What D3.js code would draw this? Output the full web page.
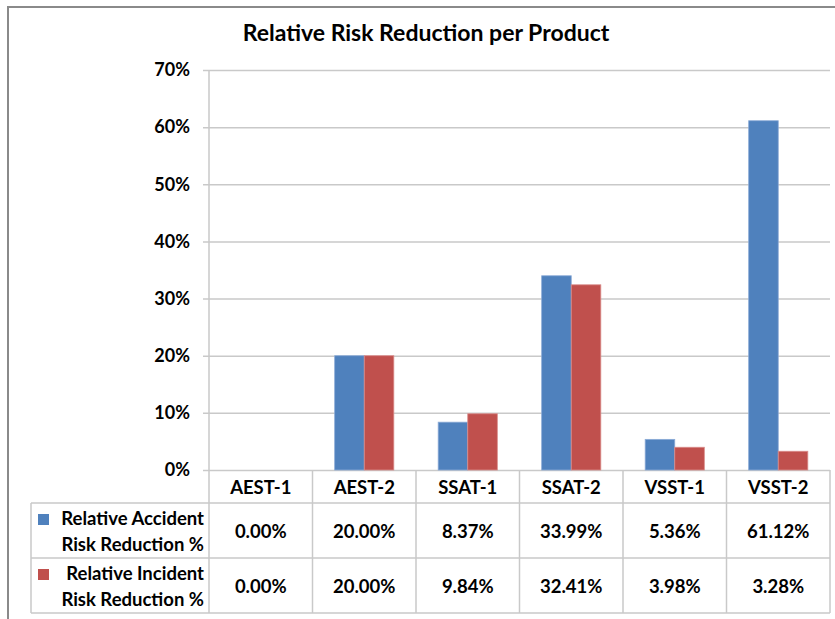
<!DOCTYPE html>
<html>
<head>
<meta charset="utf-8">
<script src="https://cdn.jsdelivr.net/npm/d3@7"></script>
<style>
  html, body { margin: 0; padding: 0; background: #fff; }
  svg { display: block; }
  text { font-family: Lato, "Open Sans", sans-serif; font-weight: bold; fill: #000; }
</style>
</head>
<body>
<svg id="chart" width="835" height="619"></svg>
<script>
// ===== Data =====
const products = ["AEST-1", "AEST-2", "SSAT-1", "SSAT-2", "VSST-1", "VSST-2"];
const accident = [0.0, 0.20, 0.0837, 0.3399, 0.0536, 0.6112];
const incident = [0.0, 0.20, 0.0984, 0.3241, 0.0398, 0.0328];
const seriesNames = [["Relative Accident", "Risk Reduction %"], ["Relative Incident", "Risk Reduction %"]];
const yTicks = [0, 0.1, 0.2, 0.3, 0.4, 0.5, 0.6, 0.7];

const seriesList = [
  { key: "acc", label: seriesNames[0], values: accident, color: "#4F81BD", edge: "#8AAAD6" },
  { key: "inc", label: seriesNames[1], values: incident, color: "#C0504D", edge: "#D98C8A" }
];

// ===== Layout =====
const svg = d3.select("#chart");
const plot = { left: 209, right: 830, top: 70, bottom: 470 };
const table = { left: 31, header: 503, row1: 558, bottom: 613 };
const gridColor = "#c9c9c9";
const tableFont = "18.5px";

const x = d3.scaleBand().domain(products).range([plot.left, plot.right]);
const xs = d3.scaleBand().domain(seriesList.map(s => s.key))
  .range([0, x.bandwidth()]).paddingOuter(0.75);
const y = d3.scaleLinear().domain([0, 0.7]).range([plot.bottom, plot.top]);

// outer chart border
svg.append("rect")
  .attr("x", 8).attr("y", 7)
  .attr("width", 840).attr("height", 630)
  .attr("fill", "none")
  .attr("stroke", "#8a8a8a")
  .attr("stroke-width", 2);

// title
svg.append("text")
  .attr("x", 426).attr("y", 41)
  .attr("text-anchor", "middle")
  .style("font-size", "23px")
  .text("Relative Risk Reduction per Product");

// gridlines + y axis
const yAxis = d3.axisLeft(y)
  .tickValues(yTicks)
  .tickFormat(d3.format(".0%"))
  .tickSize(-(plot.right - plot.left))
  .tickPadding(19);

const yAxisG = svg.append("g")
  .attr("transform", `translate(${plot.left},0)`)
  .call(yAxis);
yAxisG.select(".domain").remove();
yAxisG.selectAll(".tick line")
  .attr("x1", -6)
  .attr("stroke", gridColor)
  .attr("stroke-width", 1.5);
yAxisG.selectAll(".tick text")
  .style("font-size", "18px")
  .style("font-family", "Lato, 'Open Sans', sans-serif")
  .attr("fill", "#000");

// y axis line
svg.append("line")
  .attr("x1", plot.left).attr("x2", plot.left)
  .attr("y1", plot.top).attr("y2", table.bottom)
  .attr("stroke", gridColor).attr("stroke-width", 1.5);

// bars
seriesList.forEach(s => {
  svg.append("g").selectAll("rect")
    .data(products.map((p, i) => ({ p, v: s.values[i] })))
    .join("rect")
    .attr("x", d => x(d.p) + xs(s.key))
    .attr("y", d => y(d.v))
    .attr("width", xs.bandwidth())
    .attr("height", d => y(0) - y(d.v))
    .attr("fill", s.color)
    .attr("stroke", d => d.v > 0 ? s.edge : "none")
    .attr("stroke-width", 0.8);
});

// ===== Data table =====
const tg = svg.append("g");

// vertical separators
products.forEach((p, i) => {
  if (i === 0) return;
  tg.append("line")
    .attr("x1", x(p)).attr("x2", x(p))
    .attr("y1", plot.bottom).attr("y2", table.bottom)
    .attr("stroke", gridColor).attr("stroke-width", 1.5);
});
tg.append("line")
  .attr("x1", plot.right).attr("x2", plot.right)
  .attr("y1", plot.bottom).attr("y2", table.bottom)
  .attr("stroke", gridColor).attr("stroke-width", 1.5);
tg.append("line")
  .attr("x1", table.left).attr("x2", table.left)
  .attr("y1", table.header).attr("y2", table.bottom)
  .attr("stroke", gridColor).attr("stroke-width", 1.5);

// horizontal separators
[table.header, table.row1, table.bottom].forEach(yy => {
  tg.append("line")
    .attr("x1", table.left).attr("x2", plot.right)
    .attr("y1", yy).attr("y2", yy)
    .attr("stroke", gridColor).attr("stroke-width", 1.5);
});

// header: category names
tg.selectAll("text.cat")
  .data(products)
  .join("text")
  .attr("class", "cat")
  .attr("x", d => x(d) + x.bandwidth() / 2)
  .attr("y", 494)
  .attr("text-anchor", "middle")
  .style("font-size", tableFont)
  .text(d => d);

// rows
const rowTops = [table.header, table.row1];
const rowBottoms = [table.row1, table.bottom];
seriesList.forEach((s, si) => {
  const top = rowTops[si], bot = rowBottoms[si];
  const mid = (top + bot) / 2;

  // legend key
  tg.append("rect")
    .attr("x", 38).attr("y", mid - 16.5)
    .attr("width", 11).attr("height", 11)
    .attr("fill", s.color);

  tg.append("text")
    .attr("x", 204).attr("y", mid - 5.5)
    .attr("text-anchor", "end")
    .style("font-size", tableFont)
    .text(s.label[0]);
  tg.append("text")
    .attr("x", 204).attr("y", mid + 20)
    .attr("text-anchor", "end")
    .style("font-size", tableFont)
    .text(s.label[1]);

  tg.selectAll(null)
    .data(products.map((p, i) => ({ p, v: s.values[i] })))
    .join("text")
    .attr("x", d => x(d.p) + x.bandwidth() / 2)
    .attr("y", mid + 7)
    .attr("text-anchor", "middle")
    .style("font-size", tableFont)
    .text(d => d3.format(".2%")(d.v));
});
</script>
</body>
</html>
